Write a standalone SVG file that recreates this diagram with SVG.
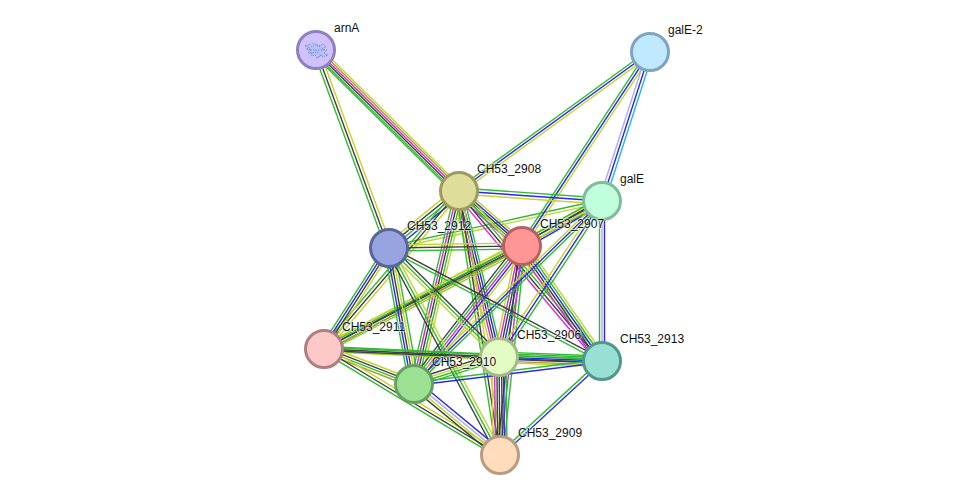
<svg xmlns="http://www.w3.org/2000/svg" width="975" height="500" viewBox="0 0 975 500">
<style>
#connectors path{fill:none;stroke-width:1.4}
.g{stroke:#30bc30}.y{stroke:#c4d430}.k{stroke:#404040}.b{stroke:#2a2ae8}.m{stroke:#d62ad6}.v{stroke:#aaaaf8}.c{stroke:#28b8d8}.l{stroke:#84d222}.o{stroke:#a8a040}
.node circle{stroke-width:3}
.node text{font:12px "Liberation Sans",Arial,sans-serif;fill:#111;stroke:#fff;stroke-width:1.6;stroke-opacity:.6;paint-order:stroke}
</style>
<rect width="975" height="500" fill="#fff"/>
<g id="connectors">
<!-- each group runs along +x from the first node towards the second; y values are the strand offsets -->
<g transform="translate(602 201) rotate(152)"><path class="g" d="M0-3H315"/><path class="k" d="M0 0H315"/><path class="y" d="M0 3H315"/></g>
<g transform="translate(389 248) rotate(-12.4)"><path class="g" d="M0-1.5H218"/><path class="y" d="M0 1.5H218"/></g>
<g transform="translate(316 50) rotate(69.8)"><path class="g" d="M0 3H211"/><path class="k" d="M0 0H211"/><path class="y" d="M0-3H211"/></g>
<g transform="translate(316 50) rotate(44.6)"><path class="g" d="M0 5H201"/><path class="g" d="M0 3.500H201"/><path class="k" d="M0 1.500H201"/><path class="m" d="M0-.5H201"/><path class="o" d="M0-2.500H201"/><path class="y" d="M0-4.500H201"/></g>
<g transform="translate(459 191) rotate(-36)"><path class="g" d="M0-2.500H236"/><path class="b" d="M0 0H236"/><path class="y" d="M0 2.500H236"/></g>
<g transform="translate(522 246) rotate(-56.6)"><path class="g" d="M0-2.500H232"/><path class="b" d="M0 0H232"/><path class="y" d="M0 2.500H232"/></g>
<g transform="translate(602 201) rotate(-72.1)"><path class="v" d="M0-3H156"/><path class="b" d="M0 0H156"/><path class="c" d="M0 3H156"/></g>
<g transform="translate(459 191) rotate(4)"><path class="g" d="M0-3H143"/><path class="b" d="M0 0H143"/><path class="y" d="M0 3H143"/></g>
<g transform="translate(459 191) rotate(41.100)"><path class="m" d="M0 4.500H84"/><path class="g" d="M0 2.200H84"/><path class="k" d="M0 0H84"/><path class="b" d="M0-2.200H84"/><path class="y" d="M0-4.500H84"/></g>
<g transform="translate(389 248) rotate(-39.200)"><path class="y" d="M0-4.500H90"/><path class="k" d="M0-1.500H90"/><path class="g" d="M0 1.500H90"/><path class="b" d="M0 4.500H90"/></g>
<g transform="translate(324 349) rotate(-49.500)"><path class="g" d="M0-3H208"/><path class="k" d="M0 0H208"/><path class="y" d="M0 3H208"/></g>
<g transform="translate(459 191) rotate(76.500)"><path class="y" d="M0 6H171"/><path class="m" d="M0 3.500H171"/><path class="k" d="M0 1.200H171"/><path class="b" d="M0-1.200H171"/><path class="g" d="M0-3.500H171"/></g>
<g transform="translate(459 191) rotate(103.100)"><path class="y" d="M0-6H198"/><path class="g" d="M0-3.500H198"/><path class="k" d="M0-1H198"/><path class="m" d="M0 1.500H198"/><path class="g" d="M0 4H198"/></g>
<g transform="translate(459 191) rotate(49.900)"><path class="m" d="M0 4.500H222"/><path class="k" d="M0 1.500H222"/><path class="g" d="M0-1.500H222"/><path class="y" d="M0-4.500H222"/></g>
<g transform="translate(459 191) rotate(81.200)"><path class="g" d="M0 3H267"/><path class="k" d="M0 0H267"/><path class="y" d="M0-3H267"/></g>
<g transform="translate(522 246) rotate(-29.400)"><path class="g" d="M0-4H92"/><path class="k" d="M0-1.500H92"/><path class="y" d="M0 1H92"/><path class="b" d="M0 3.500H92"/></g>
<g transform="translate(389 248) rotate(-.9)"><path class="y" d="M0-3H133"/><path class="k" d="M0 0H133"/><path class="g" d="M0 3H133"/></g>
<g transform="translate(324 349) rotate(-27.500)"><path class="y" d="M0-4H223"/><path class="g" d="M0-2H223"/><path class="k" d="M0 0H223"/><path class="o" d="M0 2H223"/><path class="l" d="M0 4H223"/></g>
<g transform="translate(522 246) rotate(101.700)"><path class="y" d="M0 5H113"/><path class="m" d="M0 2.500H113"/><path class="k" d="M0 0H113"/><path class="b" d="M0-2.500H113"/><path class="g" d="M0-5H113"/></g>
<g transform="translate(522 246) rotate(128)"><path class="y" d="M0-5H175"/><path class="b" d="M0-2.500H175"/><path class="m" d="M0 0H175"/><path class="g" d="M0 2.500H175"/><path class="k" d="M0 5H175"/></g>
<g transform="translate(522 246) rotate(55.200)"><path class="m" d="M0 5H140"/><path class="k" d="M0 2.500H140"/><path class="b" d="M0 0H140"/><path class="g" d="M0-2.500H140"/><path class="y" d="M0-5H140"/></g>
<g transform="translate(522 246) rotate(96)"><path class="g" d="M0-3H210"/><path class="m" d="M0 0H210"/><path class="k" d="M0 3H210"/></g>
<g transform="translate(602 201) rotate(123.400)"><path class="g" d="M0-3H187"/><path class="b" d="M0 0H187"/><path class="y" d="M0 3H187"/></g>
<g transform="translate(602 201) rotate(90)"><path class="b" d="M0-2.500H160"/><path class="v" d="M0 0H160"/><path class="g" d="M0 2.500H160"/></g>
<g transform="translate(602 201) rotate(135.800)"><path class="g" d="M0-2.500H262"/><path class="b" d="M0 0H262"/><path class="y" d="M0 2.500H262"/></g>
<g transform="translate(324 349) rotate(-57.200)"><path class="g" d="M0-4H120"/><path class="b" d="M0-1.500H120"/><path class="k" d="M0 1H120"/><path class="y" d="M0 3.500H120"/></g>
<g transform="translate(389 248) rotate(44.700)"><path class="k" d="M0-3H155"/><path class="g" d="M0 0H155"/><path class="y" d="M0 3H155"/></g>
<g transform="translate(389 248) rotate(27.900)"><path class="k" d="M0-1.500H241"/><path class="g" d="M0 1.500H241"/></g>
<g transform="translate(389 248) rotate(79.600)"><path class="g" d="M0 5H138"/><path class="b" d="M0 2.500H138"/><path class="k" d="M0 0H138"/><path class="y" d="M0-2.500H138"/><path class="g" d="M0-5H138"/></g>
<g transform="translate(389 248) rotate(61.800)"><path class="k" d="M0 3H235"/><path class="g" d="M0 0H235"/><path class="y" d="M0-3H235"/></g>
<g transform="translate(324 349) rotate(2.600)"><path class="g" d="M0-2.500H175"/><path class="k" d="M0 0H175"/><path class="l" d="M0 2.500H175"/></g>
<g transform="translate(324 349) rotate(2.500)"><path class="g" d="M0-1.500H278"/><path class="k" d="M0 1.500H278"/></g>
<g transform="translate(324 349) rotate(21.300)"><path class="y" d="M0-4H97"/><path class="k" d="M0-1.500H97"/><path class="g" d="M0 1H97"/><path class="o" d="M0 3.500H97"/></g>
<g transform="translate(324 349) rotate(31.100)"><path class="y" d="M0-3H205"/><path class="k" d="M0 0H205"/><path class="g" d="M0 3H205"/></g>
<g transform="translate(499 357) rotate(2.200)"><path class="g" d="M0-5H103"/><path class="g" d="M0-3.500H103"/><path class="g" d="M0-2H103"/><path class="b" d="M0 0H103"/><path class="k" d="M0 2H103"/><path class="o" d="M0 4H103"/><path class="y" d="M0 5.500H103"/></g>
<g transform="translate(414 384) rotate(-17.600)"><path class="k" d="M0-4.500H89"/><path class="y" d="M0-2H89"/><path class="g" d="M0 .5H89"/><path class="g" d="M0 3H89"/></g>
<g transform="translate(499 357) rotate(89.400)"><path class="g" d="M0-7H98"/><path class="b" d="M0-4.500H98"/><path class="k" d="M0-2.500H98"/><path class="k" d="M0 0H98"/><path class="k" d="M0 2.200H98"/><path class="m" d="M0 4.500H98"/><path class="y" d="M0 7H98"/></g>
<g transform="translate(414 384) rotate(-7)"><path class="g" d="M0-1.500H189"/><path class="b" d="M0 1.500H189"/></g>
<g transform="translate(414 384) rotate(39.500)"><path class="b" d="M0-4.500H111"/><path class="v" d="M0-1.500H111"/><path class="y" d="M0 1.500H111"/><path class="k" d="M0 4H111"/></g>
<g transform="translate(500 455) rotate(-42.700)"><path class="g" d="M0-1.500H139"/><path class="b" d="M0 1.500H139"/></g>
</g>
<g id="arnA" class="node"><circle cx="316" cy="50" r="18.500" fill="#d0c2ff" stroke="#9080c0"/>
<path d="M305 46l5-2 2 3 4-3 3 2 4-2 3 3-4 2 5 1-3 3 4 2-5 2-2-2-3 3-3-3-4 1 1-3-4 0 3-3-5-1 4-1z M308 50h16 M310 53l10-1 M312 43l8 4 M316 58l6-3" fill="#a4bcec" fill-opacity=".5" stroke="#5b8cd8" stroke-width=".8" stroke-dasharray="1.500 1"/>
<text x="334" y="32">arnA</text></g>
<g id="galE-2" class="node"><circle cx="650" cy="52" r="18.500" fill="#c0e8ff" stroke="#7fa4bf"/><text x="668" y="34">galE-2</text></g>
<g id="galE" class="node"><circle cx="602" cy="201" r="18.500" fill="#c0ffdc" stroke="#80bc9c"/><text x="620" y="183">galE</text></g>
<g id="CH53_2908" class="node"><circle cx="459" cy="191" r="18.500" fill="#dede9a" stroke="#9c9c60"/><text x="477" y="173">CH53_2908</text></g>
<g id="CH53_2907" class="node"><circle cx="522" cy="246" r="18.500" fill="#ff9696" stroke="#b86060"/><text x="540" y="228">CH53_2907</text></g>
<g id="CH53_2912" class="node"><circle cx="389" cy="248" r="18.500" fill="#98a4e0" stroke="#5a6699"/><text x="407" y="230">CH53_2912</text></g>
<g id="CH53_2911" class="node"><circle cx="324" cy="349" r="18.500" fill="#fcc8c8" stroke="#b08080"/><text x="342" y="331">CH53_2911</text></g>
<g id="CH53_2906" class="node"><circle cx="499" cy="357" r="18.500" fill="#e2fcc4" stroke="#a4ba88"/><text x="517" y="339">CH53_2906</text></g>
<g id="CH53_2913" class="node"><circle cx="602" cy="361" r="18.500" fill="#98e0d4" stroke="#52968c"/><text x="620" y="343">CH53_2913</text></g>
<g id="CH53_2910" class="node"><circle cx="414" cy="384" r="18.500" fill="#9ce094" stroke="#66a060"/><text x="432" y="366">CH53_2910</text></g>
<g id="CH53_2909" class="node"><circle cx="500" cy="455" r="18.500" fill="#ffdcbc" stroke="#b89c80"/><text x="518" y="437">CH53_2909</text></g>
</svg>
